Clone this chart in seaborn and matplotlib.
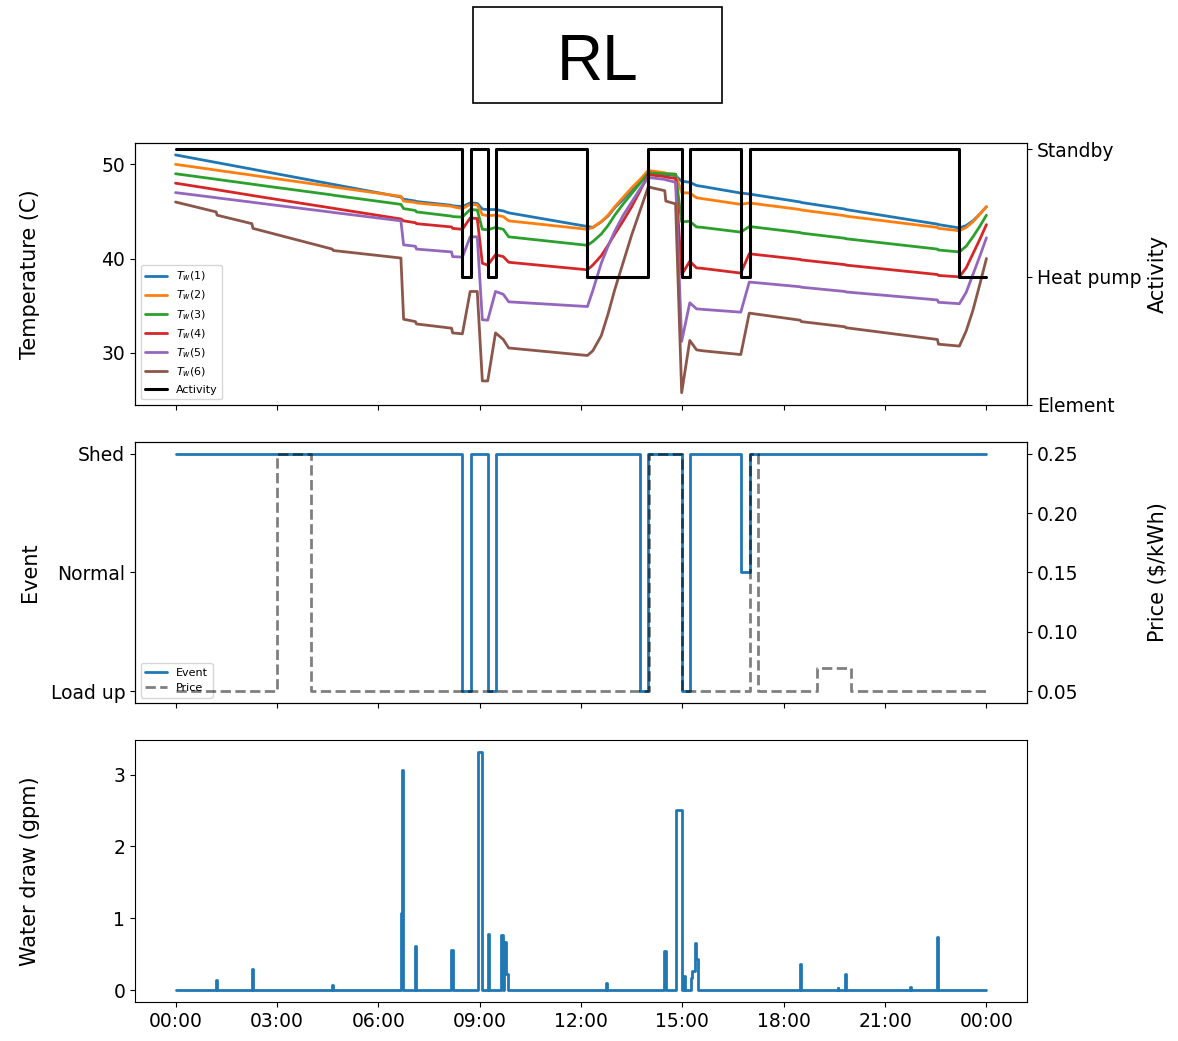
import matplotlib
matplotlib.use('Agg')
import numpy as np
import pandas as pd
import seaborn as sns
from matplotlib import pyplot as plt
import matplotlib.dates as mdates
from matplotlib.patches import Rectangle

sns.set_style('ticks')
plt.rcParams['font.family'] = ['DejaVu Sans']
plt.rcParams.update({'text.color': 'black', 'axes.labelcolor': 'black',
                     'xtick.color': 'black', 'ytick.color': 'black',
                     'axes.edgecolor': 'black'})

# time grid for tank temperatures (hours after midnight)
t_grid = [0.0, 1.20, 1.23, 2.26, 2.29, 4.64, 4.67, 6.67, 6.75, 7.10, 7.13, 8.17, 8.20,
          8.49, 8.72, 8.93, 9.08, 9.24, 9.47, 9.70, 9.86,
          12.19, 12.35, 12.6, 12.8, 13.0, 13.25, 13.5, 13.75, 13.99,
          14.48, 14.51, 14.80, 14.98, 15.22, 15.42, 15.6, 16.73, 16.98, 18.49,
          18.52, 19.81, 19.84, 22.55, 22.58,
          23.20, 23.4, 23.6, 23.8, 24.0]

tw1 = [51.0, 50.2, 50.18, 49.49, 49.47, 47.89, 47.87, 46.53, 46.3, 46.1, 46.05, 45.65, 45.6,
       45.5, 45.9, 45.85, 45.25, 45.2, 45.2, 45.05, 44.85,
       43.4, 43.3, 43.9, 44.5, 45.4, 46.3, 47.3, 48.2, 49.2,
       48.95, 48.93, 48.8, 48.2, 48.1, 47.75, 47.65, 46.95, 46.85, 46.0,
       45.95, 45.25, 45.2, 43.65, 43.6,
       43.25, 43.5, 44.0, 44.7, 45.5]
tw2 = [50.0, 49.39, 49.37, 48.85, 48.83, 47.63, 47.6, 46.6, 46.1, 45.95, 45.9, 45.55, 45.5,
       45.3, 45.75, 45.7, 44.65, 44.55, 44.6, 44.45, 44.0,
       43.1, 43.3, 43.9, 44.6, 45.5, 46.5, 47.5, 48.4, 49.35,
       49.1, 49.05, 48.95, 47.0, 46.95, 46.45, 46.35, 45.75, 45.9, 45.2,
       45.15, 44.55, 44.5, 43.3, 43.2,
       42.95, 43.3, 43.9, 44.7, 45.5]
tw3 = [49.0, 48.42, 48.4, 47.9, 47.88, 46.75, 46.72, 45.75, 45.3, 45.1, 44.95, 44.5, 44.45,
       44.4, 45.2, 45.15, 43.1, 43.05, 43.3, 43.1, 42.3,
       41.4, 41.8, 42.6, 43.5, 44.6, 45.8, 46.9, 48.0, 49.1,
       49.0, 48.98, 48.95, 43.9, 43.95, 43.35, 43.3, 42.8, 43.4, 42.75,
       42.7, 42.15, 42.1, 41.0, 40.9,
       40.7, 41.3, 42.3, 43.4, 44.6]
tw4 = [48.0, 47.32, 47.3, 46.7, 46.68, 45.35, 45.33, 44.2, 44.0, 43.8, 43.7, 43.35, 43.2,
       43.1, 44.3, 44.25, 39.5, 39.3, 40.4, 40.2, 39.6,
       38.8, 39.3, 40.3, 41.4, 42.6, 44.0, 45.5, 47.2, 48.9,
       48.7, 48.65, 48.5, 38.3, 39.7, 39.0, 38.95, 38.45, 40.5, 39.9,
       39.85, 39.35, 39.3, 38.3, 38.2,
       38.05, 39.0, 40.5, 42.0, 43.6]
tw5 = [47.0, 46.46, 46.44, 45.98, 45.96, 44.91, 44.89, 44.0, 41.45, 41.3, 41.0, 40.7, 40.2,
       40.15, 42.3, 42.3, 33.5, 33.45, 36.5, 36.2, 35.4,
       34.9, 36.6, 39.5, 41.3, 42.9, 44.6, 46.0, 47.4, 48.6,
       48.4, 48.35, 48.1, 31.2, 35.3, 34.65, 34.6, 34.3, 37.5, 37.0,
       36.95, 36.5, 36.45, 35.6, 35.35,
       35.2, 36.4, 38.3, 40.2, 42.2]
tw6 = [46.0, 44.95, 44.6, 43.7, 43.2, 41.0, 40.85, 40.05, 33.55, 33.3, 33.05, 32.6, 32.1,
       32.0, 36.5, 36.5, 27.0, 27.0, 32.1, 31.4, 30.5,
       29.7, 30.2, 31.8, 34.1, 36.7, 39.6, 42.5, 45.1, 47.6,
       47.2, 46.1, 45.8, 25.75, 31.3, 30.3, 30.2, 29.8, 34.2, 33.45,
       33.3, 32.75, 32.65, 31.4, 30.9,
       30.7, 32.3, 34.5, 37.2, 40.0]

# activity: 0 = Element, 1 = Heat pump, 2 = Standby
act_hours = [0, 8.49, 8.74, 9.24, 9.49, 12.19, 13.99, 14.98, 15.24, 16.73, 17.0, 23.2, 24.0]
act_level = [2, 1, 2, 1, 2, 1, 2, 1, 2, 1, 2, 1, 1]
act_names = ['Element', 'Heat pump', 'Standby']

# event: -1 = Load up, 0 = Normal, 1 = Shed
event_hours = [0, 8.48, 8.74, 9.24, 9.49, 13.75, 13.99, 14.99, 15.24, 16.73, 17.0, 24.0]
event_level = [1, -1, 1, -1, 1, -1, 1, -1, 1, 0, 1, 1]
event_names = ['Load up', 'Normal', 'Shed']

price_hours = [0, 3.0, 4.0, 14.0, 15.0, 17.0, 17.25, 19.0, 20.0, 24.0]
price = [0.05, 0.25, 0.05, 0.25, 0.05, 0.25, 0.05, 0.07, 0.05, 0.05]

draw_hours = [0, 1.19, 1.23, 2.25, 2.29, 4.63, 4.67, 6.67, 6.70, 6.74, 7.09, 7.13,
              8.16, 8.20, 8.96, 9.07, 9.26, 9.29, 9.64, 9.68, 9.73, 9.78, 9.83,
              12.74, 12.78, 14.47, 14.51, 14.80, 14.98, 15.04, 15.09, 15.25, 15.30,
              15.36, 15.41, 15.45, 18.48, 18.52, 19.60, 19.62, 19.80, 19.84,
              21.74, 21.76, 22.54, 22.58, 24.0]
draw_gpm = [0, 0.14, 0, 0.30, 0, 0.07, 0, 1.07, 3.06, 0, 0.61, 0,
            0.56, 0, 3.31, 0, 0.78, 0, 0.76, 0, 0.67, 0.22, 0,
            0.10, 0, 0.54, 0, 2.50, 0, 0.20, 0, 0.17, 0.27,
            0.65, 0.43, 0, 0.36, 0, 0.03, 0, 0.22, 0,
            0.04, 0, 0.74, 0, 0]

base = pd.Timestamp('2021-07-01')


def to_time(hours):
    return base + pd.to_timedelta(hours, unit='h')


fig, (ax1, ax2, ax3) = plt.subplots(3, 1, figsize=(11.78, 10.41), dpi=100, sharex=True)
fig.subplots_adjust(left=0.1146, right=0.8718, top=0.8626, bottom=0.0375, hspace=0.142)

colors = sns.color_palette('tab10', 6)
tick_fs = 13.5
label_fs = 15
leg_fs = 8

# --- top: tank temperatures + activity
for i, tw in enumerate([tw1, tw2, tw3, tw4, tw5, tw6]):
    sns.lineplot(x=to_time(t_grid), y=tw, ax=ax1, color=colors[i], lw=2,
                 label=f'$T_w({i + 1})$', estimator=None)
ax1b = ax1.twinx()
sns.lineplot(x=to_time(act_hours), y=act_level, ax=ax1b, color='black', lw=2.2,
             drawstyle='steps-post', label='Activity', estimator=None)
ax1b.set_yticks([0, 1, 2], act_names)
ax1b.set_ylim(0, 2.05)
ax1.set_yticks([30, 40, 50])
ax1.set_ylabel('Temperature (C)', fontsize=label_fs)
ax1b.set_ylabel('Activity', fontsize=label_fs)
if ax1b.get_legend():
    ax1b.get_legend().remove()
h1, l1 = ax1.get_legend_handles_labels()
h2, l2 = ax1b.get_legend_handles_labels()
ax1.legend(h1 + h2, l1 + l2, loc='lower left', fontsize=leg_fs)

# --- middle: event + price
sns.lineplot(x=to_time(event_hours), y=event_level, ax=ax2, color=colors[0], lw=2,
             drawstyle='steps-post', label='Event', estimator=None)
ax2b = ax2.twinx()
sns.lineplot(x=to_time(price_hours), y=price, ax=ax2b, color='black', alpha=0.5, lw=2,
             linestyle='--', drawstyle='steps-post', label='Price', estimator=None)
ax2.set_yticks([-1, 0, 1], event_names)
ax2b.set_yticks([0.05, 0.10, 0.15, 0.20, 0.25])
ax2.set_ylabel('Event', fontsize=label_fs)
ax2b.set_ylabel(r'Price (\$/kWh)', fontsize=label_fs)
if ax2b.get_legend():
    ax2b.get_legend().remove()
h1, l1 = ax2.get_legend_handles_labels()
h2, l2 = ax2b.get_legend_handles_labels()
ax2.legend(h1 + h2, l1 + l2, loc='lower left', fontsize=leg_fs)

# --- bottom: water draw
sns.lineplot(x=to_time(draw_hours), y=draw_gpm, ax=ax3, color=colors[0], lw=2,
             drawstyle='steps-post', estimator=None)
ax3.set_yticks([0, 1, 2, 3])
ax3.set_ylabel('Water draw (gpm)', fontsize=label_fs)

ax3.xaxis.set_major_locator(mdates.HourLocator(byhour=range(0, 24, 3)))
ax3.xaxis.set_major_formatter(mdates.DateFormatter('%H:%M'))

for ax in [ax1, ax2, ax3]:
    ax.set_xlabel('')
    ax.tick_params(labelsize=tick_fs)
    ax.yaxis.set_label_coords(-0.1065, 0.5)
for ax in [ax1b, ax2b]:
    ax.tick_params(labelsize=tick_fs)
    ax.yaxis.set_label_coords(1.1357, 0.5)

# boxed title
fig.text(0.5072, 0.9236, 'RL', ha='center', va='baseline', fontsize=46, color='black',
         family=['Liberation Sans', 'DejaVu Sans'])
fig.add_artist(Rectangle((0.4015, 0.9011), 0.2114, 0.0922, transform=fig.transFigure,
                         fill=False, lw=1.2, ec='black'))

fig.savefig('out.png', dpi=100)
